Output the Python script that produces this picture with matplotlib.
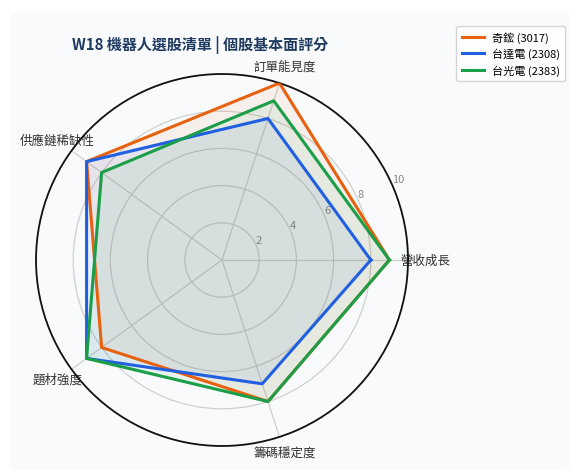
import numpy as np
import matplotlib
matplotlib.use("Agg")
import matplotlib.pyplot as plt
from matplotlib.patches import FancyBboxPatch

plt.rcParams['font.family'] = ['Noto Sans CJK TC', 'DejaVu Sans']

categories = ["營收成長", "訂單能見度", "供應鏈稀缺性", "題材強度", "籌碼穩定度"]
series_names = ["奇鋐 (3017)", "台達電 (2308)", "台光電 (2383)"]
qihong = [9, 10, 9, 8, 8]
delta = [8, 8, 9, 9, 7]
taiguang = [9, 9, 8, 9, 8]
radial_ticks = [2, 4, 6, 8, 10]
title = "W18 機器人選股清單 | 個股基本面評分"

colors = ["#e8610f", "#2060e0", "#1a9e48"]
all_series = [qihong, delta, taiguang]

W, H = 578, 477
fig = plt.figure(figsize=(W / 100, H / 100), dpi=100)
fig.patch.set_facecolor("white")
card = FancyBboxPatch((10 / W, 7 / H), 560 / W, 456 / H,
                      boxstyle="round,pad=0,rounding_size=0.01",
                      transform=fig.transFigure, facecolor="#f8fafc",
                      edgecolor="none", zorder=-5)
fig.patches.append(card)

cx, cy, R = 222, 216, 186
ax = fig.add_axes([(cx - R) / W, (cy - R) / H, 2 * R / W, 2 * R / H], polar=True)
ax.set_zorder(1)
ax.set_facecolor("#f8fafc")

n = len(categories)
angles = np.linspace(0, 2 * np.pi, n, endpoint=False)
for name, vals, c in zip(series_names, all_series, colors):
    v = list(vals) + [vals[0]]
    a = list(angles) + [angles[0]]
    ax.plot(a, v, color=c, linewidth=2.2, label=name, zorder=3)
    ax.fill(a, v, color=c, alpha=0.07, zorder=2)

ax.set_ylim(0, 10)
ax.set_yticks(radial_ticks)
ax.set_yticklabels([str(t) for t in radial_ticks], fontsize=8, color="#888888")
ax.set_rlabel_position(24)
ax.set_xticks(angles)
ax.set_xticklabels(categories, fontsize=9, color="#333333")
ax.tick_params(axis='x', pad=2)
ax.grid(color="#cfcfcf", linewidth=0.9)
ax.spines['polar'].set_color("#111111")
ax.spines['polar'].set_linewidth(1.3)

fig.text(200 / W, 1 - 45 / H, title, ha="center", va="center",
         fontsize=10.8, fontweight="bold", color="#1e3a5f")

leg = fig.legend(loc="upper right", bbox_to_anchor=(571 / W, 1 - 21 / H),
                 fontsize=8, frameon=True, handlelength=2.0, handletextpad=0.7,
                 borderpad=0.5, labelspacing=0.45)
leg.get_frame().set_facecolor("white")
leg.get_frame().set_edgecolor("#cccccc")
leg.set_zorder(5)

fig.savefig("out.png", dpi=100, facecolor=fig.get_facecolor())
